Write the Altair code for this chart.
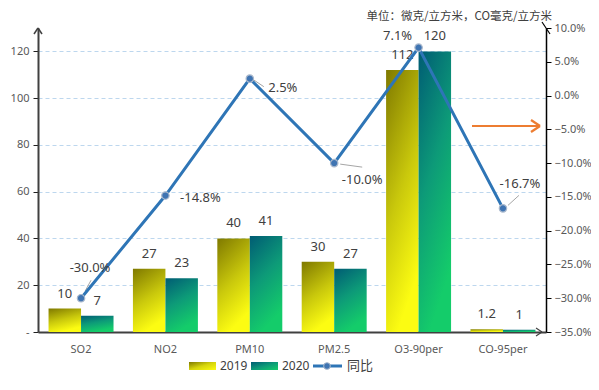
import altair as alt
import pandas as pd

pollutants = ["SO2", "NO2", "PM10", "PM2.5", "O3-90per", "CO-95per"]
v2019 = [10, 27, 40, 30, 112, 1.2]
v2020 = [7, 23, 41, 27, 120, 1]
yoy = [-0.300, -0.148, 0.025, -0.100, 0.071, -0.167]
years = ["2019", "2020"]
left_ticks = [0, 20, 40, 60, 80, 100, 120]
right_ticks = [0.10, 0.05, 0.0, -0.05, -0.10, -0.15, -0.20, -0.25, -0.30, -0.35]
unit_text = "单位：微克/立方米，CO毫克/立方米"
line_name = "同比"

FONT = "Noto Sans"
CJK = "Noto Sans CJK SC"
TXT = "#404040"
AX = "#595959"
LINE = "#2e75b6"

rows = []
for p, a, b in zip(pollutants, v2019, v2020):
    rows.append({"pollutant": p, "year": "2019", "value": a, "label": f"{a:g}"})
    rows.append({"pollutant": p, "year": "2020", "value": b, "label": f"{b:g}"})
bars_df = pd.DataFrame(rows)
line_df = pd.DataFrame({"pollutant": pollutants, "yoy": yoy,
                        "label": [f"{v*100:.1f}%" for v in yoy]})
one = pd.DataFrame({"k": [0]})

grad19 = alt.Gradient(gradient="linear",
                      stops=[alt.GradientStop(color="#7f7900", offset=0),
                             alt.GradientStop(color="#c9c80c", offset=0.55),
                             alt.GradientStop(color="#fcfc12", offset=1)],
                      x1=0, y1=0, x2=0.35, y2=1)
grad20 = alt.Gradient(gradient="linear",
                      stops=[alt.GradientStop(color="#005c74", offset=0),
                             alt.GradientStop(color="#0d9a78", offset=0.5),
                             alt.GradientStop(color="#14cc6a", offset=1)],
                      x1=0, y1=0, x2=0.35, y2=1)
legend19 = alt.Gradient(gradient="linear",
                        stops=[alt.GradientStop(color="#7f7900", offset=0),
                               alt.GradientStop(color="#d6d50c", offset=0.5),
                               alt.GradientStop(color="#fcfc12", offset=1)],
                        x1=0, y1=0, x2=1, y2=1)
legend20 = alt.Gradient(gradient="linear",
                        stops=[alt.GradientStop(color="#005c74", offset=0),
                               alt.GradientStop(color="#0d9a78", offset=0.5),
                               alt.GradientStop(color="#14cc6a", offset=1)],
                        x1=0, y1=0, x2=1, y2=1)

x_enc = alt.X("pollutant:N", sort=pollutants,
              scale=alt.Scale(domain=pollutants, paddingInner=0.23, paddingOuter=0.125),
              axis=alt.Axis(title=None, labelAngle=0, ticks=False, domainColor="#404040",
                            domainWidth=2, labelColor=AX, labelFont=FONT, labelFontSize=11,
                            labelPadding=11))
xo_enc = alt.XOffset("year:N", scale=alt.Scale(domain=years, paddingInner=0, paddingOuter=0))
y_left = alt.Y("value:Q", scale=alt.Scale(domain=[0, 130], nice=False),
               axis=alt.Axis(title=None, values=left_ticks, grid=True, gridColor="#bdd7ee",
                             gridDash=[4, 3], gridWidth=1, domainColor="#404040", domainWidth=2,
                             tickColor="#202020", tickSize=5, labelColor=AX, labelFont=FONT,
                             labelFontSize=11, labelPadding=4,
                             labelExpr="datum.value == 0 ? '-' : datum.label"))

base = alt.Chart(bars_df)
b19 = base.transform_filter(alt.datum.year == "2019").mark_bar(color=grad19).encode(
    x=x_enc, xOffset=xo_enc, y=y_left)
b20 = base.transform_filter(alt.datum.year == "2020").mark_bar(color=grad20).encode(
    x=x_enc, xOffset=xo_enc, y=y_left)
btxt = base.mark_text(dy=-15, baseline="middle", font=FONT, fontSize=13, color=TXT).encode(
    x=x_enc, xOffset=xo_enc, y=y_left, text="label:N")
left = alt.layer(b19, b20, btxt)

y_right = alt.Y("yoy:Q", scale=alt.Scale(domain=[-0.35, 0.10], nice=False),
                axis=alt.Axis(title=None, orient="right", values=right_ticks, format=".1%",
                              grid=False, domainColor="#000000", domainWidth=1.5,
                              tickColor="#000000", tickSize=5, labelColor=AX, labelFont=FONT,
                              labelFontSize=11, labelPadding=3))
lbase = alt.Chart(line_df)

label_offsets = {"SO2": (9, -30), "NO2": (35, 2), "PM10": (33, 9),
                 "PM2.5": (28, 17), "O3-90per": (-21, -12), "CO-95per": (17, -24)}
leaders = {"SO2": (4, -7, 10, -18), "PM10": (2, 0, 14, 8),
           "PM2.5": (6, 1, 28, 4), "CO-95per": (5, -3, 16, -13)}

lead_layers = []
for p, (ax, ay, bx, by) in leaders.items():
    lead_layers.append(lbase.transform_filter(alt.datum.pollutant == p).mark_rule(
        color="#a6a6a6", strokeWidth=1, xOffset=ax, yOffset=ay, x2Offset=bx, y2Offset=by).encode(
        x=x_enc, y=y_right, x2="pollutant:N", y2="yoy:Q"))

lline = lbase.mark_line(color=LINE, strokeWidth=3).encode(x=x_enc, y=y_right)
lpts = lbase.mark_circle(size=55, color="#3f74b2", stroke="#a9b8cc", strokeWidth=1.2,
                         opacity=1).encode(x=x_enc, y=y_right)

llabels = []
for p in pollutants:
    dx, dy = label_offsets[p]
    llabels.append(lbase.transform_filter(alt.datum.pollutant == p).mark_text(
        dx=dx, dy=dy, baseline="middle", font=FONT, fontSize=13, color=TXT).encode(
        x=x_enc, y=y_right, text="label:N"))
right = alt.layer(*lead_layers, lline, lpts, *llabels)


def seg(x1, y1, x2, y2, color, w):
    return alt.Chart(one).mark_rule(color=color, strokeWidth=w).encode(
        x=alt.value(x1), y=alt.value(y1), x2=alt.value(x2), y2=alt.value(y2))


deco = [
    # orange arrow
    seg(434, 98, 501, 98, "#ed7d31", 2.2),
    seg(493, 92, 502, 98, "#ed7d31", 2.2),
    seg(493, 104, 502, 98, "#ed7d31", 2.2),
    # axis arrows
    seg(-4, 6, 0, 0, "#404040", 1.5),
    seg(4, 6, 0, 0, "#404040", 1.5),
    seg(504, -6, 508, 0, "#000000", 1.2),
    seg(512, 6, 508, 0, "#000000", 1.2),
    seg(498, 300, 504, 304, "#404040", 1.2),
    seg(498, 308, 504, 304, "#404040", 1.2),
    # legend
    alt.Chart(one).mark_rect(color=legend19).encode(
        x=alt.value(151), x2=alt.value(178), y=alt.value(334), y2=alt.value(342)),
    alt.Chart(one).mark_text(text="2019", align="left", baseline="middle", font=FONT,
                             fontSize=12, color=TXT).encode(x=alt.value(182), y=alt.value(338)),
    alt.Chart(one).mark_rect(color=legend20).encode(
        x=alt.value(213), x2=alt.value(240), y=alt.value(334), y2=alt.value(342)),
    alt.Chart(one).mark_text(text="2020", align="left", baseline="middle", font=FONT,
                             fontSize=12, color=TXT).encode(x=alt.value(244), y=alt.value(338)),
    seg(275, 338, 304, 338, LINE, 3),
    alt.Chart(one).mark_circle(size=45, color="#3f74b2", stroke="#a9b8cc", strokeWidth=1,
                               opacity=1).encode(x=alt.value(289), y=alt.value(338)),
    alt.Chart(one).mark_text(text=line_name, align="left", baseline="middle", font=CJK,
                             fontSize=13, color=TXT).encode(x=alt.value(309), y=alt.value(338)),
]

chart = alt.layer(left, right, *deco).resolve_scale(y="independent").properties(
    width=508, height=304,
    padding={"left": 30, "top": 20, "right": 45, "bottom": 50},
    autosize=alt.AutoSizeParams(type="none"),
    background="white",
    title=alt.TitleParams(unit_text, anchor="end", frame="group", orient="top",
                          font=CJK, fontSize=11.5, fontWeight="normal", color=TXT,
                          baseline="middle", dx=6, dy=11, offset=4),
).configure_view(stroke=None)

chart.save("out.html", embed_options={"renderer": "svg", "actions": False})
